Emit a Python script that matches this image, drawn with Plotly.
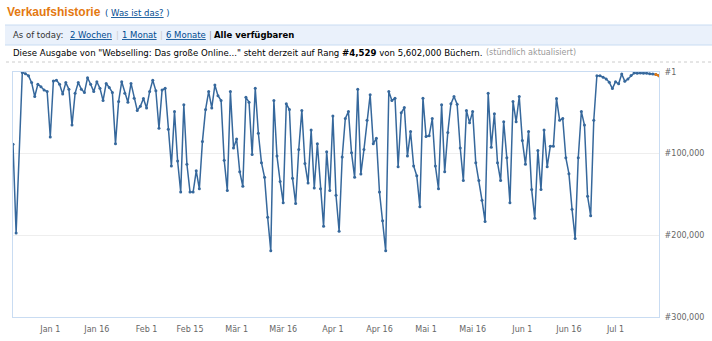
import plotly.graph_objects as go
import pandas as pd

# ---------------- data ----------------
start_date = "2007-12-20"
ranks = [
    88600, 197000, None, 600, 2000, 4700, 13000, 30000, 15000, 18000,
    22000, 24000, 79500, 11000, 10000, 15000, 27000, 13000, 21000, 65000,
    26000, 13000, 21000, 25000, 7000, 15000, 24000, 12000, 20000, 35000,
    14000, 19000, 25000, 88000, 36000, 12000, 26000, 37000, 14000, 32000,
    47000, 42000, 32500, 44000, 24000, 10000, 23000, 69000, 22000, 20000,
    70000, 115000, 48500, 109000, 147000, 40000, 113000, 147000, 147000, 121000,
    143000, 85000, 46000, 24000, 44000, 16000, 29000, 35000, 108000, 145000,
    24000, 93000, 82000, 122000, 140000, 31000, 37000, 101000, 20000, 75000,
    111000, 129000, 178000, 219000, 35000, 103000, 134000, 160000, 39000, 46000,
    130000, 161000, 95000, 47000, 112000, 136000, 71000, 142000, 88000, 143000,
    189000, 97500, 145000, 54000, 151000, 195000, 104000, 57000, 48500, 99000,
    129000, 21000, 125000, 95000, 59000, 28000, 88000, 81000, 147000, 182000,
    219000, 24000, 35000, 32000, 116000, 50000, 43500, 103000, 73000, 115000,
    127000, 165000, 32000, 79000, 78000, 57000, 115000, 143000, 40000, 122000,
    74000, 39000, 30000, 39500, 93000, 133000, 47000, 62000, 48500, 111000,
    133000, 157000, 183000, 26000, 92000, 51000, 111000, 133000, 61000, 105000,
    160000, 36000, 61000, 30000, 84000, 113000, 73000, 144000, 179000, 96000,
    144000, 71000, 116000, 91000, 91000, 32500, 59000, 57000, 105000, 124500,
    168000, 204000, 105000, 48500, 65000, 152000, 176000, 59000, 4500, 4500,
    6300, 8500, 12700, 20300, 12000, 14500, 2400, 11300, 8600, 4300,
    1200, 1600, 1200, 1400, 1600, 2000, 2600, 3000, 4500,
]
dates = pd.date_range(start_date, periods=len(ranks), freq="D")

tick_dates = ["2008-01-01", "2008-01-16", "2008-02-01", "2008-02-15", "2008-03-01",
              "2008-03-16", "2008-04-01", "2008-04-16", "2008-05-01", "2008-05-16",
              "2008-06-01", "2008-06-16", "2008-07-01"]
tick_labels = ["Jan 1", "Jan 16", "Feb 1", "Feb 15", "Mär 1", "Mär 16", "Apr 1",
               "Apr 16", "Mai 1", "Mai 16", "Jun 1", "Jun 16", "Jul 1"]
y_ticks = [1, 100000, 200000, 300000]
y_labels = ["#1", "#100,000", "#200,000", "#300,000"]

# ---------------- layout helpers ----------------
W, H = 712, 341
ML, MR, MT, MB = 13, 53, 72, 24
PW, PH = W - ML - MR, H - MT - MB


def px(x):
    return (x - ML) / PW


def py(y):
    return (H - MB - y) / PH


BLUE = "#36689c"
ORANGE = "#e47911"
LINK = "#004b91"
FONT = "DejaVu Sans"

fig = go.Figure()
fig.add_trace(go.Scatter(
    x=dates, y=ranks, mode="lines+markers", connectgaps=True,
    line=dict(color=BLUE, width=1.5), marker=dict(color=BLUE, size=3),
    hoverinfo="skip", showlegend=False,
))
fig.add_trace(go.Scatter(
    x=dates[-2:], y=ranks[-2:], mode="lines+markers",
    line=dict(color=ORANGE, width=1.5), marker=dict(color=ORANGE, size=3),
    hoverinfo="skip", showlegend=False,
))

shapes = [
    # nav bar
    dict(type="rect", xref="paper", yref="paper", x0=px(5), x1=px(712), y0=py(45), y1=py(25),
         fillcolor="#eaf1fb", line=dict(width=0), layer="below"),
    dict(type="line", xref="paper", yref="paper", x0=px(5), x1=px(712), y0=py(25), y1=py(25),
         line=dict(color="#c9dcf2", width=1)),
    dict(type="line", xref="paper", yref="paper", x0=px(5), x1=px(712), y0=py(45), y1=py(45),
         line=dict(color="#c9dcf2", width=1)),
    # dotted separator
    dict(type="line", xref="paper", yref="paper", x0=px(6), x1=px(712), y0=py(62), y1=py(62),
         line=dict(color="#cccccc", width=1, dash="dot")),
]


def ann(text, x, y, size=8.5, color="#000000", family=FONT):
    return dict(text=text, xref="paper", yref="paper", x=px(x), y=py(y),
                xanchor="left", yanchor="middle", showarrow=False,
                font=dict(family=family, size=size, color=color))


U = "<span style='text-decoration:underline'>{}</span>"
annotations = [
    ann("<b>Verkaufshistorie</b>", 5, 12, size=12, color=ORANGE, family="Liberation Sans"),
    ann("( " + U.format("Was ist das?") + " )", 103, 13, size=8.5, color=LINK),
    ann("As of today:", 11, 35, color="#333333"),
    ann(U.format("2 Wochen"), 68, 35, color=LINK),
    ann("|", 114, 35, color="#cccccc"),
    ann(U.format("1 Monat"), 120, 35, color=LINK),
    ann("|", 158, 35, color="#cccccc"),
    ann(U.format("6 Monate"), 164, 35, color=LINK),
    ann("|", 207, 35, color="#999999"),
    ann("<b>Alle verfügbaren</b>", 212, 35, color="#000000"),
    ann("Diese Ausgabe von \"Webselling: Das große Online...\" steht derzeit auf Rang "
        "<b>#4,529</b> von 5,602,000 Büchern.", 11, 53, size=8.6, color="#000000"),
    ann("(stündlich aktualisiert)", 484, 53, size=8, color="#999999"),
]

fig.update_layout(
    width=W, height=H, margin=dict(l=ML, r=MR, t=MT, b=MB, autoexpand=False),
    paper_bgcolor="white", plot_bgcolor="white",
    shapes=shapes, annotations=annotations,
    xaxis=dict(type="date", range=["2007-12-20", "2008-07-15"], automargin=False,
               tickvals=tick_dates, ticktext=tick_labels, showgrid=False,
               showline=True, linecolor="#c9dcf2", mirror=True, ticks="",
               ticklabelstandoff=4,
               tickfont=dict(family=FONT, size=8, color="#666666"), zeroline=False),
    yaxis=dict(range=[300000, 0], side="right", tickvals=y_ticks, ticktext=y_labels,
               automargin=False,
               showgrid=True, gridcolor="#eeeeee", showline=True, linecolor="#c9dcf2",
               mirror=True, ticks="", zeroline=False, ticklabelstandoff=3,
               tickfont=dict(family=FONT, size=8, color="#666666")),
)

fig.write_html("out.html")
